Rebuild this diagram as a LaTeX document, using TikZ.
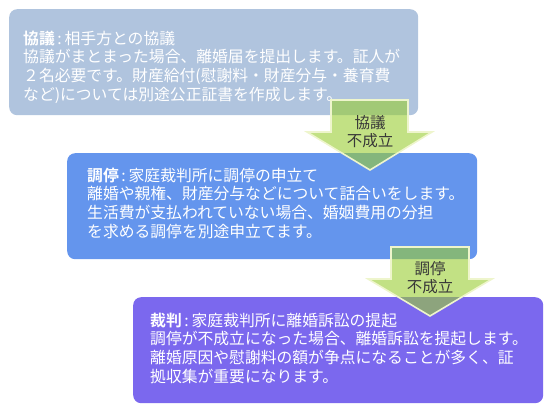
\documentclass[tikz,border=0pt]{standalone}
\usepackage{fontspec}
\setmainfont{Noto Sans CJK JP}[BoldFont={Noto Sans CJK JP Bold}]
\definecolor{boxA}{HTML}{B0C4DE}
\definecolor{boxB}{HTML}{6495ED}
\definecolor{boxC}{HTML}{7B68EE}
\definecolor{arrG}{HTML}{9ACD32}
\definecolor{arrEdge}{HTML}{EEF5CC}
\definecolor{arrTxt}{HTML}{383838}
\newcommand{\headcolon}{\hspace{2.5pt}:\hspace{3pt}}
\tikzset{
  stagebox/.style={draw=none, rounded corners=8pt, anchor=north west, inner sep=0pt},
  bodytext/.style={anchor=base west, inner sep=0pt, align=left, text=white,
    font=\fontsize{15.8}{18.8}\selectfont},
  bigarrow/.style={fill=arrG, fill opacity=0.6, draw=arrEdge, line width=1.6pt, line join=miter},
  arrowlabel/.style={inner sep=0pt, align=center, text=arrTxt,
    font=\fontsize{15.5}{17.8}\selectfont},
}
\begin{document}
\begin{tikzpicture}[x=1pt,y=-1pt]
\useasboundingbox (0,0) rectangle (560,413);
% boxes
\node[stagebox, fill=boxA, minimum width=409pt, minimum height=106pt] (b1) at (9,9) {};
\node[stagebox, fill=boxB, minimum width=410pt, minimum height=106pt] (b2) at (67,153) {};
\node[stagebox, fill=boxC, minimum width=410pt, minimum height=106pt] (b3) at (133,297) {};
% texts (base anchor = baseline of the last line)
\node[bodytext] (t1) at (23,100.5) {\textbf{協議}\headcolon 相手方との協議\\協議がまとまった場合、離婚届を提出します。証人が\\２名必要です。財産給付(慰謝料・財産分与・養育費\\など)については別途公正証書を作成します。};
\node[bodytext] (t2) at (87,237.5) {\textbf{調停}\headcolon 家庭裁判所に調停の申立て\\離婚や親権、財産分与などについて話合いをします。\\生活費が支払われていない場合、婚姻費用の分担\\を求める調停を別途申立てます。};
\node[bodytext] (t3) at (150,382.5) {\textbf{裁判}\headcolon 家庭裁判所に離婚訴訟の提起\\調停が不成立になった場合、離婚訴訟を提起します。\\離婚原因や慰謝料の額が争点になることが多く、証\\拠収集が重要になります。};
% arrows
\draw[bigarrow] (331,100) -- (408,100) -- (408,132) -- (432,132) -- (370,170) -- (307,132) -- (331,132) -- cycle;
\node[arrowlabel] (a1) at (370,131.5) {協議\\不成立};
\draw[bigarrow] (391,247) -- (469,247) -- (469,279) -- (492,279) -- (430,316) -- (368,279) -- (391,279) -- cycle;
\node[arrowlabel] (a2) at (430,277.5) {調停\\不成立};
\end{tikzpicture}
\end{document}
